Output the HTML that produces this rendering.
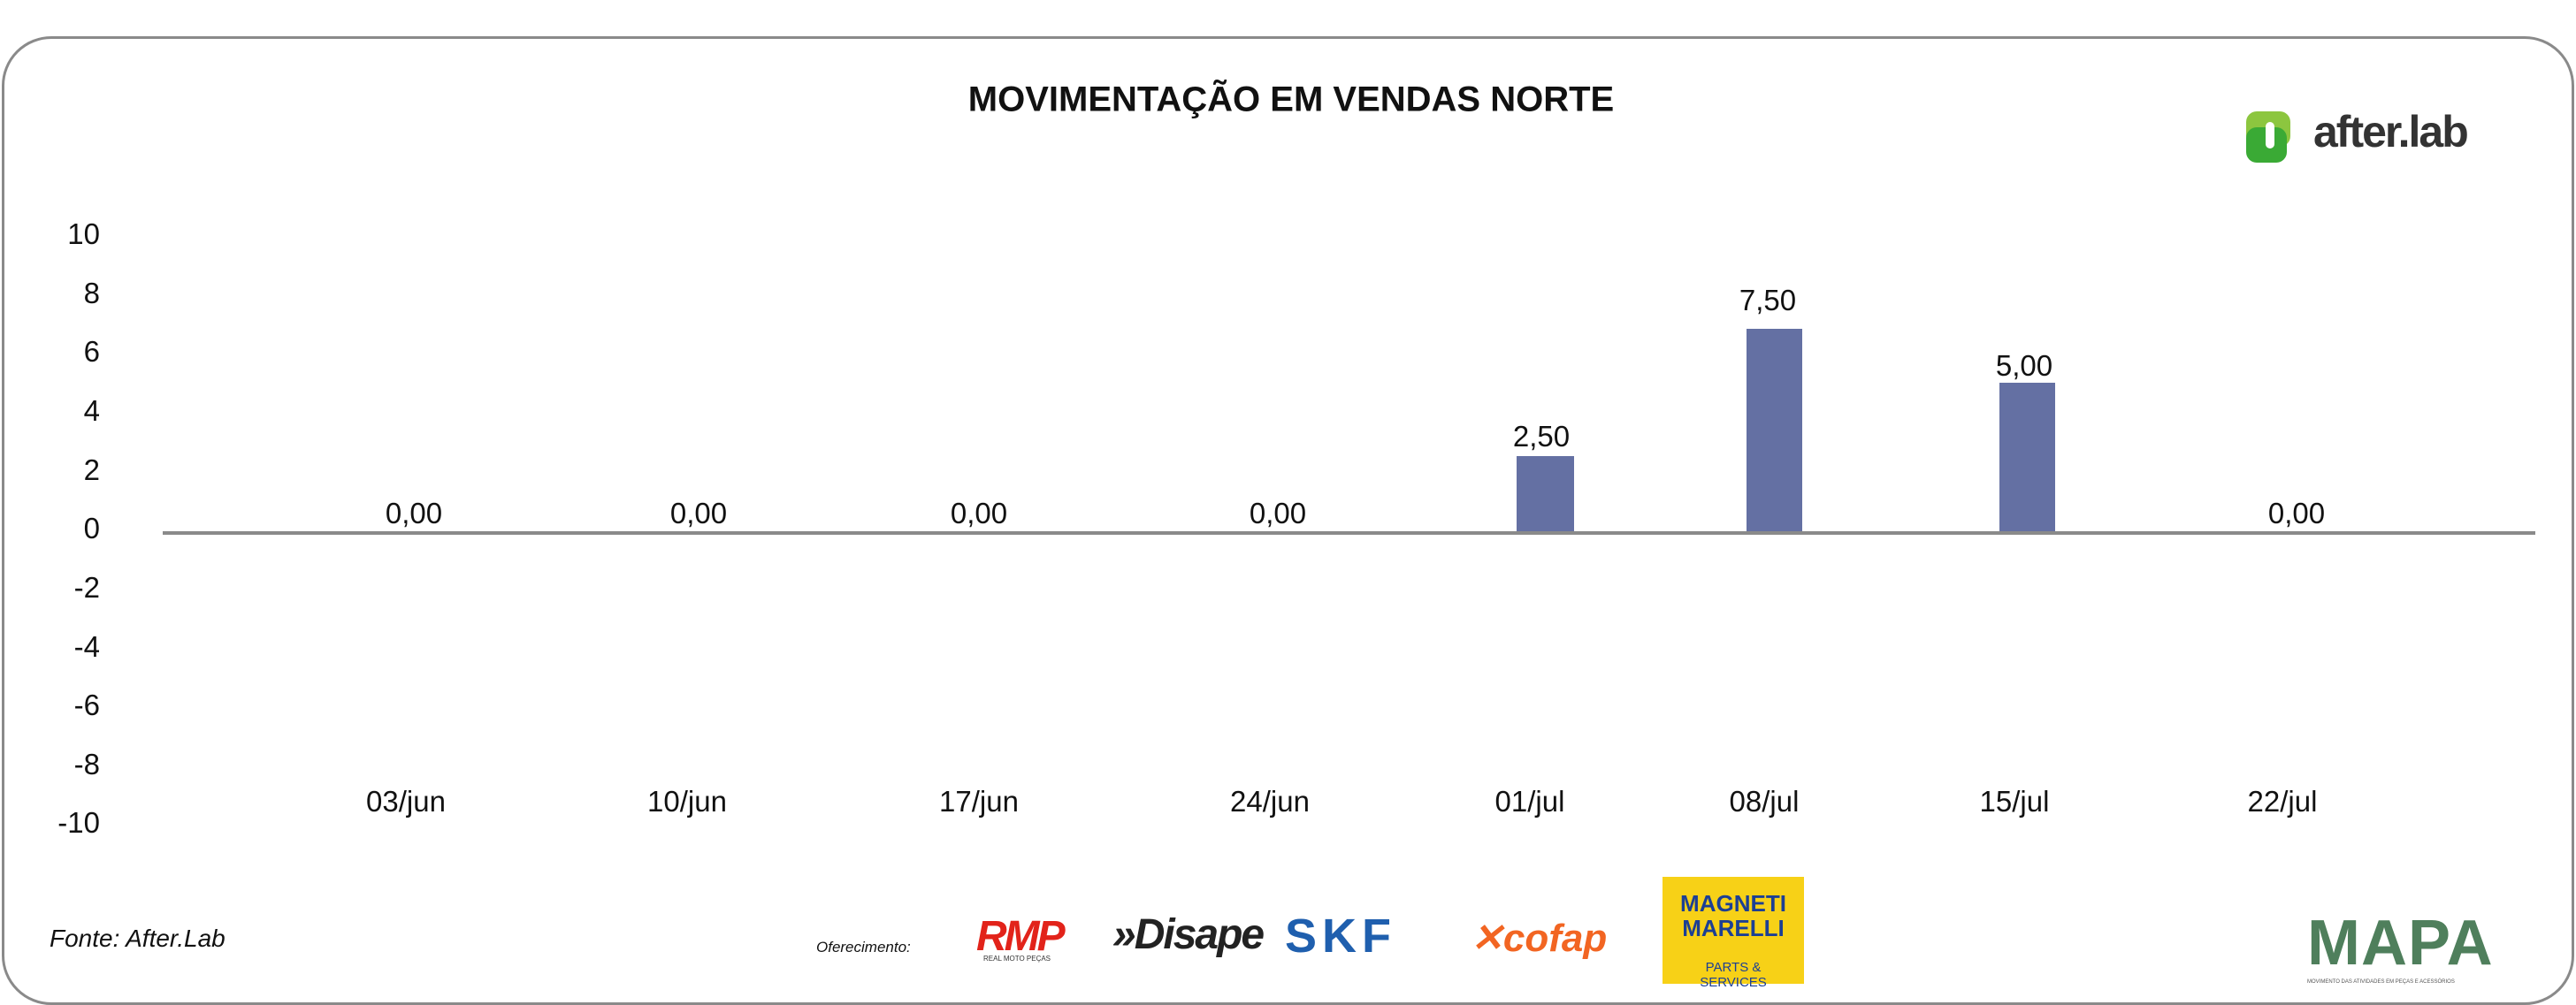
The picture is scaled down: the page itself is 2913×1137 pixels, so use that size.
<!DOCTYPE html>
<html><head><meta charset="utf-8"><style>
body{margin:0;width:2913px;height:1137px;background:#fff;position:relative;overflow:hidden;font-family:"Liberation Sans",sans-serif}
.a{position:absolute}
.frame{left:2px;top:41px;width:2903px;height:1090px;border:3px solid #8a8a8a;border-radius:56px}
.t{font-size:33px;color:#111;transform:translate(-50%,-50%);white-space:nowrap}
.yt{font-size:33px;color:#111;right:2800px;transform:translateY(-50%)}
.bar{background:#6470a3;position:absolute}
</style></head><body>
<div class="a frame"></div>
<div class="a t" style="left:1460px;top:113px;font-weight:bold;font-size:40px">MOVIMENTAÇÃO EM VENDAS NORTE</div>
<svg class="a" style="left:2538px;top:124px" width="72" height="62"><rect x="2" y="2" width="50" height="40" rx="12" fill="#8cc63f"/><rect x="2" y="20" width="46" height="40" rx="12" fill="#3aaa35"/><rect x="24" y="14" width="10" height="30" rx="5" fill="#fff"/></svg>
<div class="a" style="left:2616px;top:120px;font-size:50px;font-weight:bold;color:#333;letter-spacing:-2px">after.lab</div>
<div class="a yt" style="top:265px">10</div>
<div class="a yt" style="top:332px">8</div>
<div class="a yt" style="top:398px">6</div>
<div class="a yt" style="top:465px">4</div>
<div class="a yt" style="top:532px">2</div>
<div class="a yt" style="top:598px">0</div>
<div class="a yt" style="top:665px">-2</div>
<div class="a yt" style="top:732px">-4</div>
<div class="a yt" style="top:798px">-6</div>
<div class="a yt" style="top:865px">-8</div>
<div class="a yt" style="top:931px">-10</div>
<div class="bar" style="left:1715px;top:516px;width:65px;height:87px"></div>
<div class="bar" style="left:1975px;top:372px;width:63px;height:231px"></div>
<div class="bar" style="left:2261px;top:433px;width:63px;height:170px"></div>
<div class="a" style="left:184px;top:601px;width:2683px;height:4px;background:#8a8a8a"></div>
<div class="a t" style="left:468px;top:581px">0,00</div>
<div class="a t" style="left:790px;top:581px">0,00</div>
<div class="a t" style="left:1107px;top:581px">0,00</div>
<div class="a t" style="left:1445px;top:581px">0,00</div>
<div class="a t" style="left:2597px;top:581px">0,00</div>
<div class="a t" style="left:1743px;top:494px">2,50</div>
<div class="a t" style="left:1999px;top:340px">7,50</div>
<div class="a t" style="left:2289px;top:414px">5,00</div>
<div class="a t" style="left:459px;top:907px">03/jun</div>
<div class="a t" style="left:777px;top:907px">10/jun</div>
<div class="a t" style="left:1107px;top:907px">17/jun</div>
<div class="a t" style="left:1436px;top:907px">24/jun</div>
<div class="a t" style="left:1730px;top:907px">01/jul</div>
<div class="a t" style="left:1995px;top:907px">08/jul</div>
<div class="a t" style="left:2278px;top:907px">15/jul</div>
<div class="a t" style="left:2581px;top:907px">22/jul</div>
<div class="a" style="left:56px;top:1046px;font-size:28px;font-style:italic;color:#111">Fonte: After.Lab</div>
<div class="a" style="left:923px;top:1062px;font-size:17px;font-style:italic;color:#111">Oferecimento:</div>
<div class="a" style="left:1104px;top:1032px;font-size:48px;font-weight:bold;font-style:italic;color:#e2231a;letter-spacing:-3px">RMP</div>
<div class="a" style="left:1112px;top:1080px;font-size:8px;color:#333">REAL MOTO PEÇAS</div>
<div class="a" style="left:1258px;top:1030px;font-size:48px;font-weight:bold;font-style:italic;color:#222;letter-spacing:-2px">»Disape</div>
<div class="a" style="left:1453px;top:1028px;font-size:54px;font-weight:bold;color:#1f5fae;letter-spacing:6px">SKF</div>
<div class="a" style="left:1663px;top:1036px;font-size:44px;font-weight:bold;font-style:italic;color:#f26522">✕cofap</div>
<div class="a" style="left:1880px;top:992px;width:160px;height:121px;background:#f7d117"></div>
<div class="a" style="left:1895px;top:1008px;font-size:26px;font-weight:bold;color:#1c3f94;line-height:28px;text-align:center;width:130px">MAGNETI<br>MARELLI</div>
<div class="a" style="left:1890px;top:1086px;font-size:15px;color:#1c3f94;width:140px;text-align:center">PARTS &amp; SERVICES</div>
<div class="a" style="left:2609px;top:1026px;font-size:72px;font-weight:bold;color:#4f7f5c;letter-spacing:1px">MAPA</div>
<div class="a" style="left:2609px;top:1108px;font-size:6px;color:#555">MOVIMENTO DAS ATIVIDADES EM PEÇAS E ACESSÓRIOS</div>
</body></html>
